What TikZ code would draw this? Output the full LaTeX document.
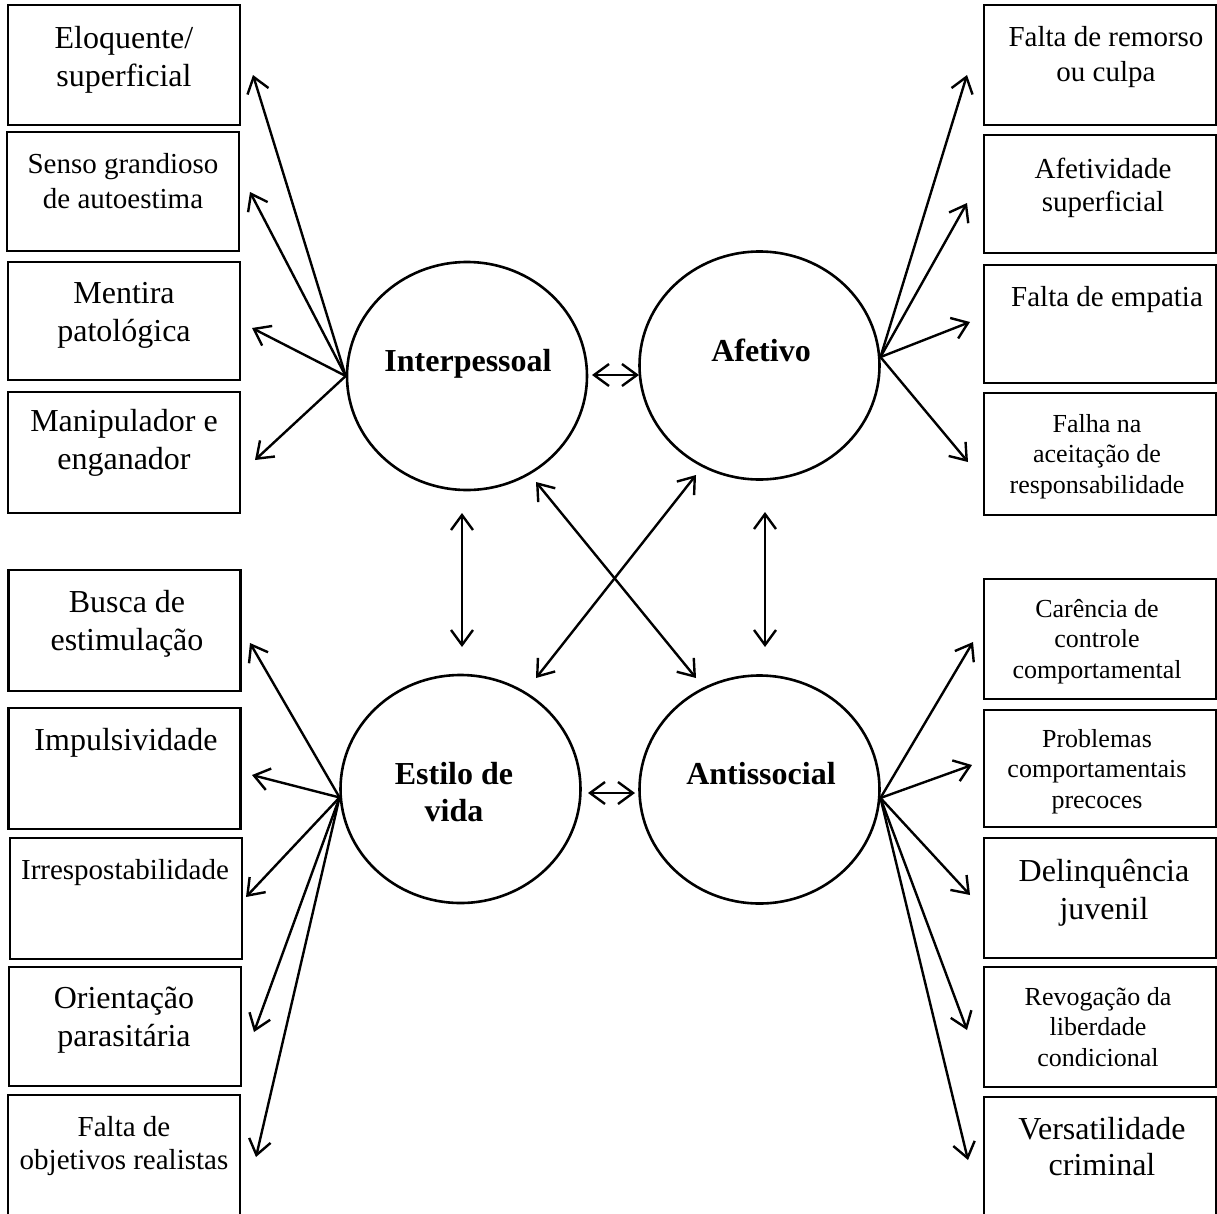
\documentclass[tikz,border=0pt]{standalone}
\usepackage{fontspec}
\setmainfont{Liberation Serif}
\usetikzlibrary{arrows.meta,shapes.geometric}
\begin{document}
\begin{tikzpicture}[x=1pt,y=-1pt,
  box/.style={draw,line width=2.8pt,minimum width=232pt,inner sep=0pt},
  big/.style={align=center,font=\fontsize{32}{38}\selectfont,text height=22pt,text depth=7pt,inner sep=0pt},
  mid/.style={align=center,font=\fontsize{29}{35}\selectfont,text height=20pt,text depth=6pt,inner sep=0pt},
  midt/.style={align=center,font=\fontsize{29}{33}\selectfont,text height=20pt,text depth=6pt,inner sep=0pt},
  sml/.style={align=center,font=\fontsize{26}{30.5}\selectfont,text height=18pt,text depth=6pt,inner sep=0pt},
  factor/.style={draw,ellipse,line width=2.6pt,minimum width=240pt,minimum height=228pt,inner sep=0pt},
  flab/.style={align=center,font=\bfseries\fontsize{32}{37}\selectfont,text height=22pt,text depth=7pt,inner sep=0pt},
  arr/.style={line width=2.4pt,-{Straight Barb[length=15pt,width=22pt]}},
  darr/.style={line width=2.4pt,{Straight Barb[length=15pt,width=22pt]}-{Straight Barb[length=15pt,width=22pt]}}
]
\useasboundingbox (0,0) rectangle (1217,1213);

% ---------- left boxes ----------
\node[box,minimum height=120pt] (L1) at (124,65) {};
\node[box,minimum height=119pt] (L2) at (123,191.5) {};
\node[box,minimum height=118pt] (L3) at (124,321) {};
\node[box,minimum height=121pt] (L4) at (124,452.5) {};
\node[box,minimum height=121pt] (L5) at (124.5,630.5) {};
\node[box,minimum height=121pt] (L6) at (124.5,768.5) {};
\node[box,minimum height=121pt] (L7) at (126,898.5) {};
\node[box,minimum height=119pt] (L8) at (125,1026.5) {};
\node[box,minimum height=130pt] (L9) at (124,1160) {};

\node[big] (tL1) at (124,79) {Eloquente/\\superficial};
\node[mid] (tL2) at (123,201) {Senso grandioso\\de autoestima};
\node[big] (tL3) at (124,334) {Mentira\\patológica};
\node[big] (tL4) at (124,462) {Manipulador e\\enganador};
\node[big] (tL5) at (127,643) {Busca de\\estimulação};
\node[big] (tL6) at (126,743) {Impulsividade};
\node[mid] (tL7) at (125,872) {Irrespostabilidade};
\node[big] (tL8) at (124,1039) {Orientação\\parasitária};
\node[midt] (tL9) at (124,1162) {Falta de\\objetivos realistas};

% ---------- right boxes ----------
\node[box,minimum height=120pt] (R1) at (1100,65) {};
\node[box,minimum height=118pt] (R2) at (1100,194) {};
\node[box,minimum height=118pt] (R3) at (1100,324) {};
\node[box,minimum height=122pt] (R4) at (1100,454) {};
\node[box,minimum height=120pt] (R5) at (1100,639) {};
\node[box,minimum height=117pt] (R6) at (1100,768.5) {};
\node[box,minimum height=120pt] (R7) at (1100,898) {};
\node[box,minimum height=120pt] (R8) at (1100,1027) {};
\node[box,minimum height=130pt] (R9) at (1100,1162) {};

\node[mid] (tR1) at (1106,74) {Falta de remorso\\ou culpa};
\node[midt] (tR2) at (1103,204) {Afetividade\\superficial};
\node[mid] (tR3) at (1107,299) {Falta de empatia};
\node[sml] (tR4) at (1097,487) {Falha na\\aceitação de\\responsabilidade};
\node[sml] (tR5) at (1097,672) {Carência de\\controle\\comportamental};
\node[sml] (tR6) at (1097,802) {Problemas\\comportamentais\\precoces};
\node[big] (tR7) at (1104,912) {Delinquência\\juvenil};
\node[sml] (tR8) at (1098,1060) {Revogação da\\liberdade\\condicional};
\node[mid,font=\fontsize{32}{36}\selectfont] (tR9) at (1102,1168) {Versatilidade\\criminal};

% ---------- factors ----------
\node[factor] (int) at (467,376) {};
\node[factor] (af) at (759.5,365.5) {};
\node[factor] (es) at (460.5,789) {};
\node[factor] (an) at (759.5,789.5) {};
\node[flab] (tint) at (468,364) {Interpessoal};
\node[flab] (taf) at (761,354) {Afetivo};
\node[flab] (tes) at (454,814) {Estilo de\\vida};
\node[flab] (tan) at (761,777) {Antissocial};

% ---------- arrow tips ----------
\coordinate (a1) at (253,75);
\coordinate (a2) at (250,192);
\coordinate (a3) at (252,328);
\coordinate (a4) at (255,460);
\coordinate (b1) at (967,75);
\coordinate (b2) at (967,203);
\coordinate (b3) at (970,322);
\coordinate (b4) at (968,462);
\coordinate (c1) at (250,643);
\coordinate (c2) at (252,775);
\coordinate (c3) at (246,897);
\coordinate (c4) at (254,1032);
\coordinate (c5) at (256,1157);
\coordinate (d1) at (973,642);
\coordinate (d2) at (972,765);
\coordinate (d3) at (970,895);
\coordinate (d4) at (967,1030);
\coordinate (d5) at (968,1160);

\foreach \t in {a1,a2,a3,a4} \draw[arr] (int.west) -- (\t);
\foreach \t in {b1,b2,b3,b4} \draw[arr] (af.4) -- (\t);
\foreach \t in {c1,c2,c3,c4,c5} \draw[arr] (es.184) -- (\t);
\foreach \t in {d1,d2,d3,d4,d5} \draw[arr] (an.356) -- (\t);

% ---------- correlations ----------
\coordinate (h1a) at (592,375);
\coordinate (h1b) at (639,375);
\coordinate (v1a) at (462,513);
\coordinate (v1b) at (462,647);
\coordinate (v2a) at (765,512);
\coordinate (v2b) at (765,647);
\coordinate (x1a) at (536,482);
\coordinate (x1b) at (696,678);
\coordinate (x2a) at (696,475);
\coordinate (x2b) at (536,678);
\coordinate (h2a) at (588,793);
\coordinate (h2b) at (635,793);
\draw[darr] (h1a) -- (h1b);
\draw[darr] (v1a) -- (v1b);
\draw[darr] (v2a) -- (v2b);
\draw[darr] (x1a) -- (x1b);
\draw[darr] (x2a) -- (x2b);
\draw[darr] (h2a) -- (h2b);
\end{tikzpicture}
\end{document}
